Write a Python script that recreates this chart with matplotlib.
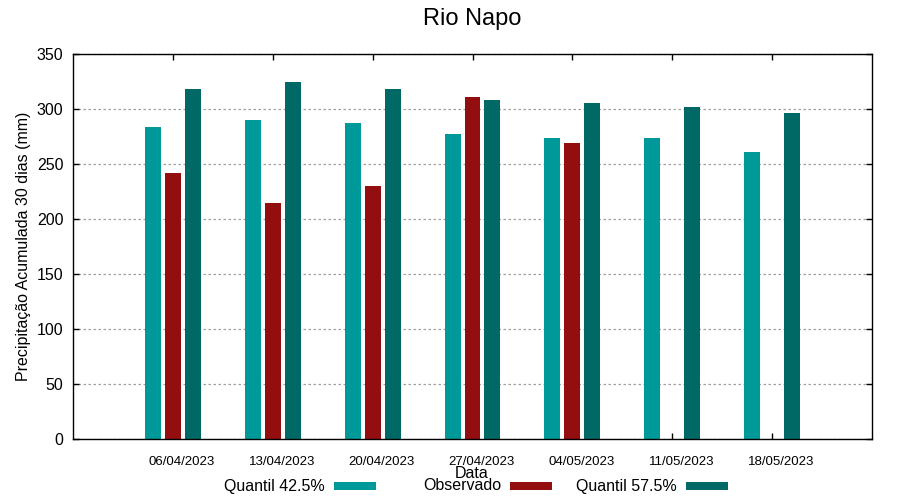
import numpy as np
import matplotlib
matplotlib.use("Agg")
import matplotlib.pyplot as plt
from matplotlib.patches import Rectangle

plt.rcParams['font.family'] = ['Liberation Sans', 'DejaVu Sans']

# dados
datas = ["06/04/2023", "13/04/2023", "20/04/2023", "27/04/2023",
         "04/05/2023", "11/05/2023", "18/05/2023"]
quantil_425 = [283.6, 290.0, 287.3, 277.3, 273.6, 273.6, 261.0]
observado = [241.8, 214.5, 230.0, 310.9, 269.4, np.nan, np.nan]
quantil_575 = [318.2, 324.5, 318.2, 308.2, 305.5, 301.8, 296.4]

series = [("Quantil 42.5%", quantil_425, "#009999"),
          ("Observado", observado, "#930e0e"),
          ("Quantil 57.5%", quantil_575, "#006966")]

fig = plt.figure(figsize=(9, 5), dpi=100)
ax = fig.add_axes([73/900, 61/500, 799/900, 385/500])

x = np.arange(1, len(datas) + 1)
offsets = [-0.2, 0.0, 0.2]
for (nome, vals, cor), off in zip(series, offsets):
	ax.bar(x + off, vals, width=0.16, color=cor, linewidth=0, zorder=2)

ax.set_xlim(0, 8)
ax.set_ylim(0, 350)
# marcas no centro do grupo, rotulos um pouco a direita (como no gnuplot)
ax.set_xticks(x)
ax.set_xticklabels([])
ax.set_xticks(x + 0.09, minor=True)
ax.set_xticklabels(datas, minor=True, fontsize=9.5)
ax.tick_params(axis='x', which='minor', length=0, pad=12)
ax.set_yticks(np.arange(0, 351, 50))
ax.tick_params(axis='y', labelsize=11.5, pad=7)
ax.tick_params(which='major', top=True, right=True, direction='in', length=4.5, width=1)
ax.set_axisbelow(True)
ax.yaxis.grid(True, color='#a0a0a0', linestyle=(0, (2, 2)), linewidth=0.9)
for s in ax.spines.values():
	s.set_linewidth(1)

ax.set_title("Rio Napo", fontsize=17, pad=21)
ax.set_ylabel("Precipitação Acumulada 30 dias (mm)", fontsize=11.5, labelpad=4)
fig.text(472/900, 1 - 474/500, "Data", ha='center', va='center', fontsize=11.5)

# legenda no estilo gnuplot: texto a direita + amostra
for i, (nome, vals, cor) in enumerate(series):
	xr = 325 + 176 * i
	fig.text(xr/900, 1 - 486/500, nome, ha='right', va='center', fontsize=11.5)
	fig.patches.append(Rectangle(((xr + 9)/900, 1 - 490/500), 42/900, 8/500,
		transform=fig.transFigure, color=cor, linewidth=0))

fig.savefig("out.png", dpi=100)
